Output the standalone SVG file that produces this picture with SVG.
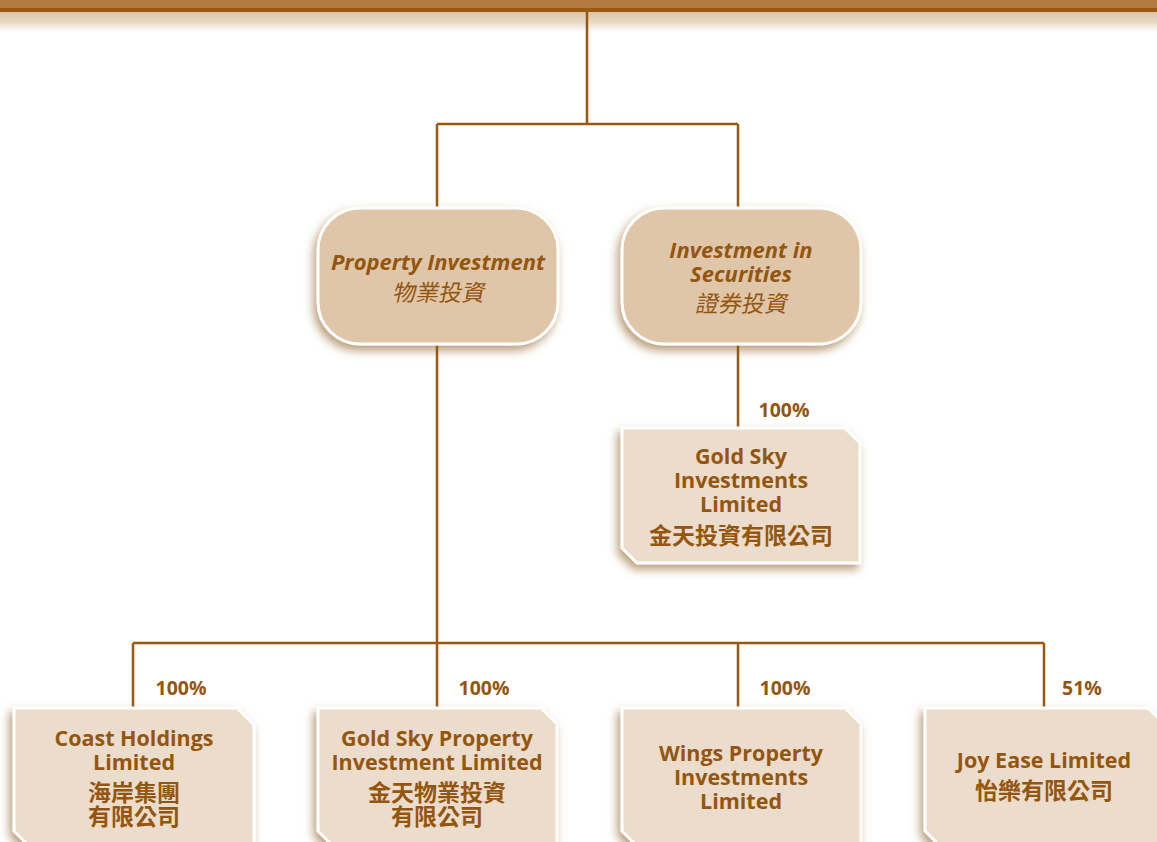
<svg xmlns="http://www.w3.org/2000/svg" width="1157" height="842" viewBox="0 0 1157 842">
<defs>
<linearGradient id="band" x1="0" y1="0" x2="0" y2="1">
<stop offset="0" stop-color="#dcc4a6"/>
<stop offset="0.5" stop-color="#e8d8c4"/>
<stop offset="1" stop-color="#ffffff"/>
</linearGradient>
<filter id="sh" x="-20%" y="-20%" width="140%" height="150%">
<feDropShadow dx="-3" dy="5" stdDeviation="5" flood-color="#8a5a20" flood-opacity="0.6"/>
</filter>
</defs>
<style>
.conn{stroke:#99580e;stroke-width:2.5;fill:none}
.round{fill:#e0c6a9;stroke:#ffffff;stroke-width:3;filter:url(#sh)}
.cut{fill:#ecdccb;stroke:#ffffff;stroke-width:3;filter:url(#sh)}
text{font-family:"Open Sans","Noto Sans CJK TC",sans-serif;font-weight:bold;fill:#94560f;text-anchor:middle}
.it{font-style:italic;font-size:22px}
.nm{font-size:21.5px}
.cj{font-family:"Noto Sans CJK TC",sans-serif;font-size:23px}
.cji{font-family:"Noto Sans CJK TC",sans-serif;font-size:23px;font-weight:normal}
.pc{font-size:19.5px}
</style>
<rect x="0" y="0" width="1157" height="842" fill="#ffffff"/>
<rect x="0" y="12" width="1157" height="20" fill="url(#band)"/>
<rect x="0" y="0" width="1157" height="9" fill="#b27b43"/>
<rect x="0" y="8" width="1157" height="4" fill="#9a5a10"/>

<g id="connectors">
<path class="conn" d="M587 12 V124 M437 124 H738 M437 124 V210 M738 124 V210"/>
<path class="conn" d="M738 344 V429"/>
<path class="conn" d="M437 344 V643 M133 643 H1044 M133 643 V708 M437 643 V708 M738 643 V708 M1044 643 V708"/>
<text class="pc" x="784" y="417">100%</text>
<text class="pc" x="181" y="695">100%</text>
<text class="pc" x="484" y="695">100%</text>
<text class="pc" x="785" y="695">100%</text>
<text class="pc" x="1082" y="695">51%</text>
</g>

<g id="property-investment">
<rect class="round" x="318" y="208" width="240" height="136" rx="42"/>
<text class="it" x="438" y="270">Property Investment</text>
<text class="cji" x="438" y="301" transform="skewX(-12) translate(64 0)">物業投資</text>
</g>

<g id="investment-securities">
<rect class="round" x="622" y="208" width="239" height="136" rx="42"/>
<text class="it" x="741" y="258">Investment in</text>
<text class="it" x="741" y="282">Securities</text>
<text class="cji" x="741" y="312" transform="skewX(-12) translate(66 0)">證券投資</text>
</g>

<g id="gold-sky-investments">
<path class="cut" d="M622 428 H845 L860 443 V563 H637 L622 548 Z"/>
<text class="nm" x="741" y="464">Gold Sky</text>
<text class="nm" x="741" y="488">Investments</text>
<text class="nm" x="741" y="512">Limited</text>
<text class="cj" x="741" y="544">金天投資有限公司</text>
</g>

<g id="coast-holdings">
<path class="cut" d="M14 708 H237 L254 725 V846 H29 L14 831 Z"/>
<text class="nm" x="134" y="746">Coast Holdings</text>
<text class="nm" x="134" y="770">Limited</text>
<text class="cj" x="134" y="801">海岸集團</text>
<text class="cj" x="134" y="825">有限公司</text>
</g>

<g id="gold-sky-property">
<path class="cut" d="M318 708 H541 L557 724 V846 H333 L318 831 Z"/>
<text class="nm" x="437" y="746">Gold Sky Property</text>
<text class="nm" x="437" y="770">Investment Limited</text>
<text class="cj" x="437" y="801">金天物業投資</text>
<text class="cj" x="437" y="825">有限公司</text>
</g>

<g id="wings-property">
<path class="cut" d="M622 708 H845 L861 724 V846 H637 L622 831 Z"/>
<text class="nm" x="741" y="761">Wings Property</text>
<text class="nm" x="741" y="785">Investments</text>
<text class="nm" x="741" y="809">Limited</text>
</g>

<g id="joy-ease">
<path class="cut" d="M925 708 H1148 L1164 724 V846 H940 L925 831 Z"/>
<text class="nm" x="1044" y="768">Joy Ease Limited</text>
<text class="cj" x="1044" y="799">怡樂有限公司</text>
</g>
</svg>
